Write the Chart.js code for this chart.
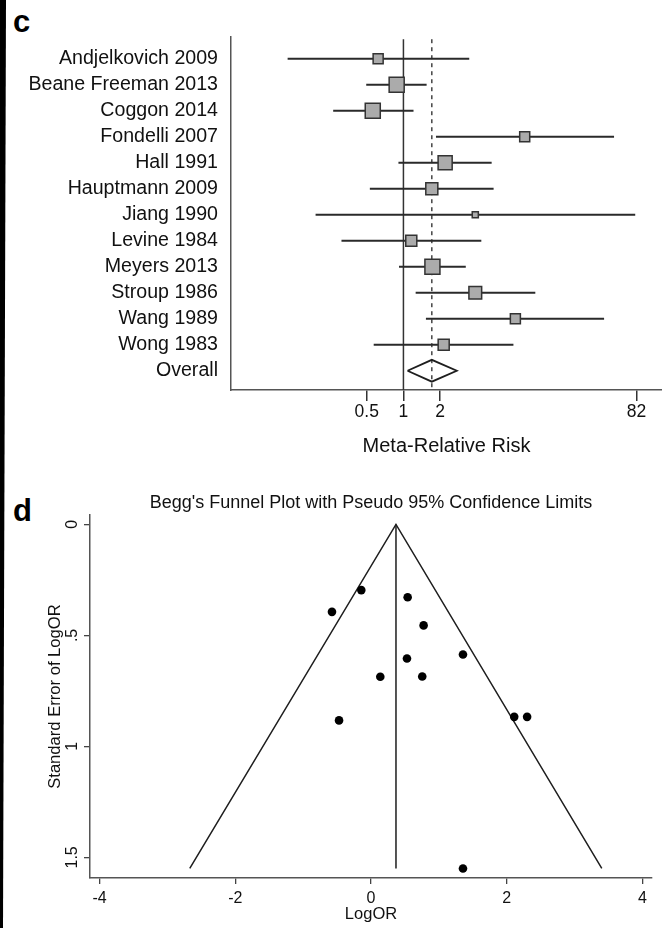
<!DOCTYPE html>
<html>
<head>
<meta charset="utf-8">
<script src="https://cdn.jsdelivr.net/npm/chart.js@4.4.0/dist/chart.umd.min.js"></script>
<style>
  body { margin: 0; background: #fff; width: 662px; height: 928px; position: relative; overflow: hidden;
         font-family: "Liberation Sans", Arial, sans-serif; }
  #strip { position: absolute; left: 0; top: 0; width: 7px; height: 928px; background: #000;
           clip-path: polygon(0 0, 6px 0, 3px 100%, 0 100%); z-index: 2; }
  .panel { position: absolute; left: 13px; font-weight: bold; font-size: 31px; line-height: 1; color: #000; }
</style>
</head>
<body>
<div id="strip"></div>
<div class="panel" style="top:6px">c</div>
<div class="panel" style="top:495px">d</div>
<canvas id="forest" width="662" height="470" style="position:absolute;left:0;top:0"></canvas>
<canvas id="funnel" width="662" height="458" style="position:absolute;left:0;top:470px"></canvas>

<script>
// forest plot (panel c)
const studies = ["Andjelkovich 2009", "Beane Freeman 2013", "Coggon 2014", "Fondelli 2007", "Hall 1991",
  "Hauptmann 2009", "Jiang 1990", "Levine 1984", "Meyers 2013", "Stroup 1986", "Wang 1989", "Wong 1983"];
const rr     = [0.62, 0.88, 0.56, 9.9, 2.2, 1.71, 3.89, 1.16, 1.73, 3.89, 8.3, 2.14];
const rrLow  = [0.112, 0.495, 0.265, 1.85, 0.91, 0.53, 0.19, 0.31, 0.92, 1.26, 1.53, 0.57];
const rrHigh = [3.47, 1.55, 1.21, 53.6, 5.3, 5.5, 80, 4.36, 3.25, 12.1, 44.4, 8.0];
const weights = [5.7, 12.8, 12.8, 5.7, 11.2, 8.2, 2.1, 6.9, 12.8, 9.2, 5.7, 6.9];
const overallRR = 1.71;
const overallLow = 1.08;
const overallHigh = 2.74;
const forestTicks = [0.5, 1, 2, 82];
const forestTickLabels = ["0.5", "1", "2", "82"];

// funnel plot (panel d)
const logOR   = [-0.143, -0.575, 0.54, 0.775, 0.53, 1.355, 0.137, 0.755, -0.471, 2.11, 2.30, 1.355];
const seLogOR = [0.296, 0.394, 0.328, 0.455, 0.604, 0.586, 0.686, 0.685, 0.883, 0.867, 0.867, 1.55];
const pooledLogOR = 0.368;
const limitX  = [-2.67, 0.368, 3.40];
const limitSE = [1.55, 0, 1.55];
const funnelXTicks = [-4, -2, 0, 2, 4];
const funnelXLabels = ["-4", "-2", "0", "2", "4"];
const funnelYTicks = [0, 0.5, 1, 1.5];
const funnelYLabels = ["0", ".5", "1", "1.5"];

const FONT = '"Liberation Sans", Arial, sans-serif';
const INK = '#1e1e1e';
Chart.defaults.font.family = FONT;
Chart.defaults.color = '#111';

const rowLabels = studies.concat(["Overall"]);
const ovRow = studies.length;
const yMin = -0.835, yMax = 12.74;

const ciSets = studies.map((s, i) => ({
  data: [{ x: rrLow[i], y: i }, { x: rrHigh[i], y: i }],
  showLine: true, borderColor: '#2a2a2a', borderWidth: 2, pointRadius: 0, order: 3
}));

new Chart(document.getElementById('forest'), {
  type: 'scatter',
  data: {
    datasets: [
      {
        data: rr.map((v, i) => ({ x: v, y: i })),
        pointStyle: 'rect',
        pointRadius: ctx => 4.2 * Math.sqrt(weights[ctx.dataIndex]) / 1.414,
        backgroundColor: '#ababab', borderColor: '#333', borderWidth: 1.5, order: 1
      },
      {
        data: [{ x: overallLow, y: ovRow }, { x: overallRR, y: ovRow - 0.42 }, { x: overallHigh, y: ovRow },
               { x: overallRR, y: ovRow + 0.42 }, { x: overallLow, y: ovRow }],
        showLine: true, borderColor: INK, borderWidth: 1.8, pointRadius: 0, fill: false, order: 2
      },
      ...ciSets,
      {
        data: [{ x: 1, y: -0.75 }, { x: 1, y: yMax }],
        showLine: true, borderColor: '#333', borderWidth: 1.5, pointRadius: 0, order: 4
      },
      {
        data: [{ x: overallRR, y: -0.75 }, { x: overallRR, y: yMax }],
        showLine: true, borderColor: '#444', borderWidth: 1.5, borderDash: [4, 4], pointRadius: 0, order: 4
      }
    ]
  },
  options: {
    responsive: false, animation: false, events: [],
    layout: { autoPadding: false, padding: { top: 37, left: 0, right: 0, bottom: 0 } },
    plugins: { legend: { display: false }, tooltip: { enabled: false } },
    scales: {
      x: {
        type: 'logarithmic', min: 0.0384, max: 132.7, position: 'bottom',
        afterBuildTicks: s => { s.ticks = forestTicks.map(v => ({ value: v })); },
        afterFit: s => { s.height = 80; },
        ticks: { callback: (v, i) => forestTickLabels[i], font: { size: 17.5 }, color: '#111',
                 padding: 0.5, maxRotation: 0, autoSkip: false },
        grid: { drawOnChartArea: false, drawTicks: true, tickLength: 11, color: '#333', lineWidth: 1.5 },
        border: { color: '#555', width: 1.5 },
        title: { display: true, text: 'Meta-Relative Risk', font: { size: 20 }, color: '#111',
                 padding: { top: 0, bottom: 12 } }
      },
      y: {
        type: 'linear', reverse: true, min: yMin, max: yMax,
        afterBuildTicks: s => { s.ticks = rowLabels.map((_, i) => ({ value: i })); },
        afterFit: s => { s.width = 231; },
        ticks: { callback: (v, i) => rowLabels[i], font: { size: 19.6 }, color: '#111', padding: 13, autoSkip: false },
        grid: { display: false, drawTicks: false, tickLength: 0 },
        border: { color: '#555', width: 1.5 }
      }
    }
  }
});

new Chart(document.getElementById('funnel'), {
  type: 'scatter',
  data: {
    datasets: [
      {
        data: logOR.map((v, i) => ({ x: v, y: seLogOR[i] })),
        pointRadius: 4.3, backgroundColor: '#000', borderWidth: 0, order: 1
      },
      {
        data: limitX.map((v, i) => ({ x: v, y: limitSE[i] })),
        showLine: true, borderColor: INK, borderWidth: 1.5, pointRadius: 0, order: 2
      },
      {
        data: [{ x: pooledLogOR, y: 0 }, { x: pooledLogOR, y: limitSE[0] }],
        showLine: true, borderColor: INK, borderWidth: 1.5, pointRadius: 0, order: 2
      }
    ]
  },
  options: {
    responsive: false, animation: false, events: [],
    layout: { autoPadding: false, padding: { top: 0, left: 0, right: 10, bottom: 0 } },
    plugins: {
      legend: { display: false }, tooltip: { enabled: false },
      title: { display: true, fullSize: false, text: "Begg's Funnel Plot with Pseudo 95% Confidence Limits",
               font: { size: 18, weight: 'normal' }, color: '#111', padding: { top: 22.5, bottom: 1 } }
    },
    scales: {
      x: {
        type: 'linear', min: -4.14, max: 4.14,
        afterBuildTicks: s => { s.ticks = funnelXTicks.map(v => ({ value: v })); },
        afterFit: s => { s.height = 50; },
        ticks: { callback: (v, i) => funnelXLabels[i], font: { size: 16 }, padding: 5, maxRotation: 0, autoSkip: false },
        grid: { drawOnChartArea: false, tickLength: 6, color: '#444', lineWidth: 1.3 },
        border: { color: '#555', width: 1.5 },
        title: { display: true, text: 'LogOR', font: { size: 16.5 }, color: '#111', padding: { top: 0, bottom: 4 } }
      },
      y: {
        type: 'linear', reverse: true, min: -0.042, max: 1.593,
        afterBuildTicks: s => { s.ticks = funnelYTicks.map(v => ({ value: v })); },
        afterFit: s => { s.width = 90; },
        ticks: { callback: (v, i) => funnelYLabels[i], font: { size: 16 }, minRotation: 90, maxRotation: 90,
                 crossAlign: 'center', padding: 0, autoSkip: false },
        grid: { drawOnChartArea: false, tickLength: 6, color: '#444', lineWidth: 1.3 },
        border: { color: '#555', width: 1.5 },
        title: { display: true, text: 'Standard Error of LogOR', font: { size: 16.6 }, color: '#111', padding: { top: 45 } }
      }
    }
  }
});
</script>
</body>
</html>
